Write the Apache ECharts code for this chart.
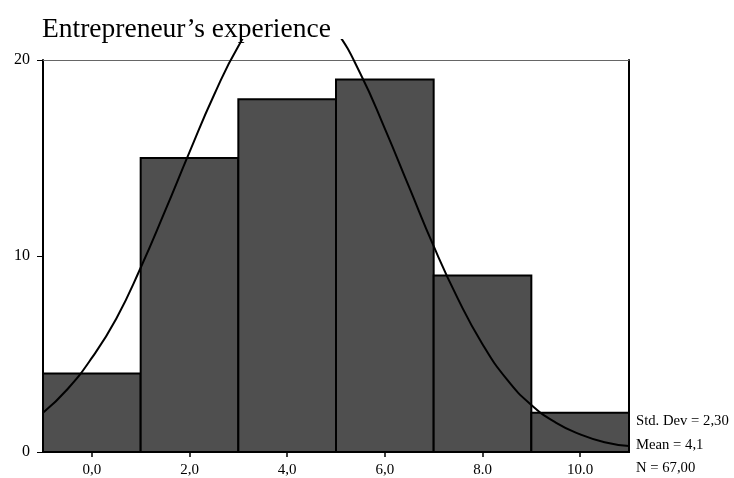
<!DOCTYPE html>
<html><head><meta charset="utf-8">
<script src="https://cdn.jsdelivr.net/npm/echarts@6/dist/echarts.min.js"></script>
<style>html,body{margin:0;padding:0;background:#fff}#c{width:734px;height:478px}</style>
</head><body><div id="c"></div><script>
const binStarts = [-1, 1, 3, 5, 7, 9];
const binEnds = [1, 3, 5, 7, 9, 11];
const counts = [4, 15, 18, 19, 9, 2];
const curveX = [-1, -0.5, 0, 0.5, 1, 1.5, 2, 2.5, 3, 3.5, 4, 4.5, 5, 5.5, 6, 6.5, 7, 7.5, 8, 8.5, 9, 9.5, 10, 10.5, 11];
const curveY = [2.0, 3.2, 4.8, 6.8, 9.4, 12.3, 15.3, 18.2, 20.7, 22.5, 23.2, 22.9, 21.5, 19.3, 16.5, 13.5, 10.5, 7.8, 5.5, 3.7, 2.4, 1.5, 0.9, 0.5, 0.3];
const xTicks = [0, 2, 4, 6, 8, 10];
const xTickLabels = ['0,0', '2,0', '4,0', '6,0', '8.0', '10.0'];
const yTicks = [0, 10, 20];
const titleText = 'Entrepreneur\u2019s experience';
const stats = ['Std. Dev = 2,30', 'Mean = 4,1', 'N = 67,00'];

const FONT = '"Liberation Serif", "DejaVu Serif", serif';
const chart = echarts.init(document.getElementById('c'), null, {renderer: 'canvas'});
const barData = binStarts.map((s, i) => [s, binEnds[i], counts[i]]);
const lineData = curveX.map((x, i) => [x, curveY[i]]);

chart.setOption({
  animation: false,
  backgroundColor: '#fff',
  title: {
    text: titleText, left: 37, top: 11, z: 20,
    textStyle: {fontFamily: FONT, fontSize: 27.5, fontWeight: 'normal', color: '#000'}
  },
  grid: {left: 43, right: 105, top: 60, bottom: 25, containLabel: false},
  xAxis: [{
    type: 'value', min: -1, max: 11,
    axisLine: {show: true, lineStyle: {color: '#000', width: 1.5}},
    axisTick: {show: true, customValues: xTicks, length: 5, lineStyle: {color: '#000', width: 1.5}},
    axisLabel: {
      customValues: xTicks, margin: 11,
      formatter: v => xTickLabels[xTicks.indexOf(v)],
      fontFamily: FONT, fontSize: 15, color: '#000'
    },
    splitLine: {show: false}
  }, {
    type: 'value', position: 'top', min: -1, max: 11,
    axisLine: {show: true, onZero: false, lineStyle: {color: '#666', width: 1.2}},
    axisTick: {show: false}, axisLabel: {show: false}, splitLine: {show: false}
  }],
  yAxis: [{
    type: 'value', min: 0, max: 20, interval: 10,
    axisLine: {show: true, onZero: false, lineStyle: {color: '#000', width: 2}},
    axisTick: {show: true, length: 6, lineStyle: {color: '#000', width: 1}},
    axisLabel: {margin: 13, fontFamily: FONT, fontSize: 16, color: '#000',
      formatter: v => yTicks.includes(v) ? String(v) : ''},
    splitLine: {show: false}
  }, {
    type: 'value', position: 'right', min: 0, max: 20,
    axisLine: {show: true, onZero: false, lineStyle: {color: '#000', width: 2}},
    axisTick: {show: false}, axisLabel: {show: false}, splitLine: {show: false}
  }],
  series: [{
    type: 'custom', xAxisIndex: 0, yAxisIndex: 0,
    data: barData,
    encode: {x: [0, 1], y: 2},
    z: 2,
    renderItem: (params, api) => {
      const s = api.coord([api.value(0), 0]);
      const e = api.coord([api.value(1), api.value(2)]);
      return {type: 'rect', shape: {x: s[0], y: e[1], width: e[0] - s[0], height: s[1] - e[1]},
        style: {fill: '#4f4f4f', stroke: '#000', lineWidth: 2}};
    }
  }, {
    type: 'line', xAxisIndex: 0, yAxisIndex: 0,
    data: lineData, smooth: true, showSymbol: false, clip: false, z: 5,
    lineStyle: {color: '#000', width: 2}
  }],
  graphic: [
    {type: 'rect', z: 10, shape: {x: 0, y: 0, width: 734, height: 39}, style: {fill: '#fff'}},
    {type: 'text', z: 20, left: 636, top: 414, style: {text: stats[0], font: '14.7px ' + FONT, fill: '#000'}},
    {type: 'text', z: 20, left: 636, top: 438, style: {text: stats[1], font: '14.7px ' + FONT, fill: '#000'}},
    {type: 'text', z: 20, left: 636, top: 461, style: {text: stats[2], font: '14.7px ' + FONT, fill: '#000'}}
  ]
});
</script></body></html>
